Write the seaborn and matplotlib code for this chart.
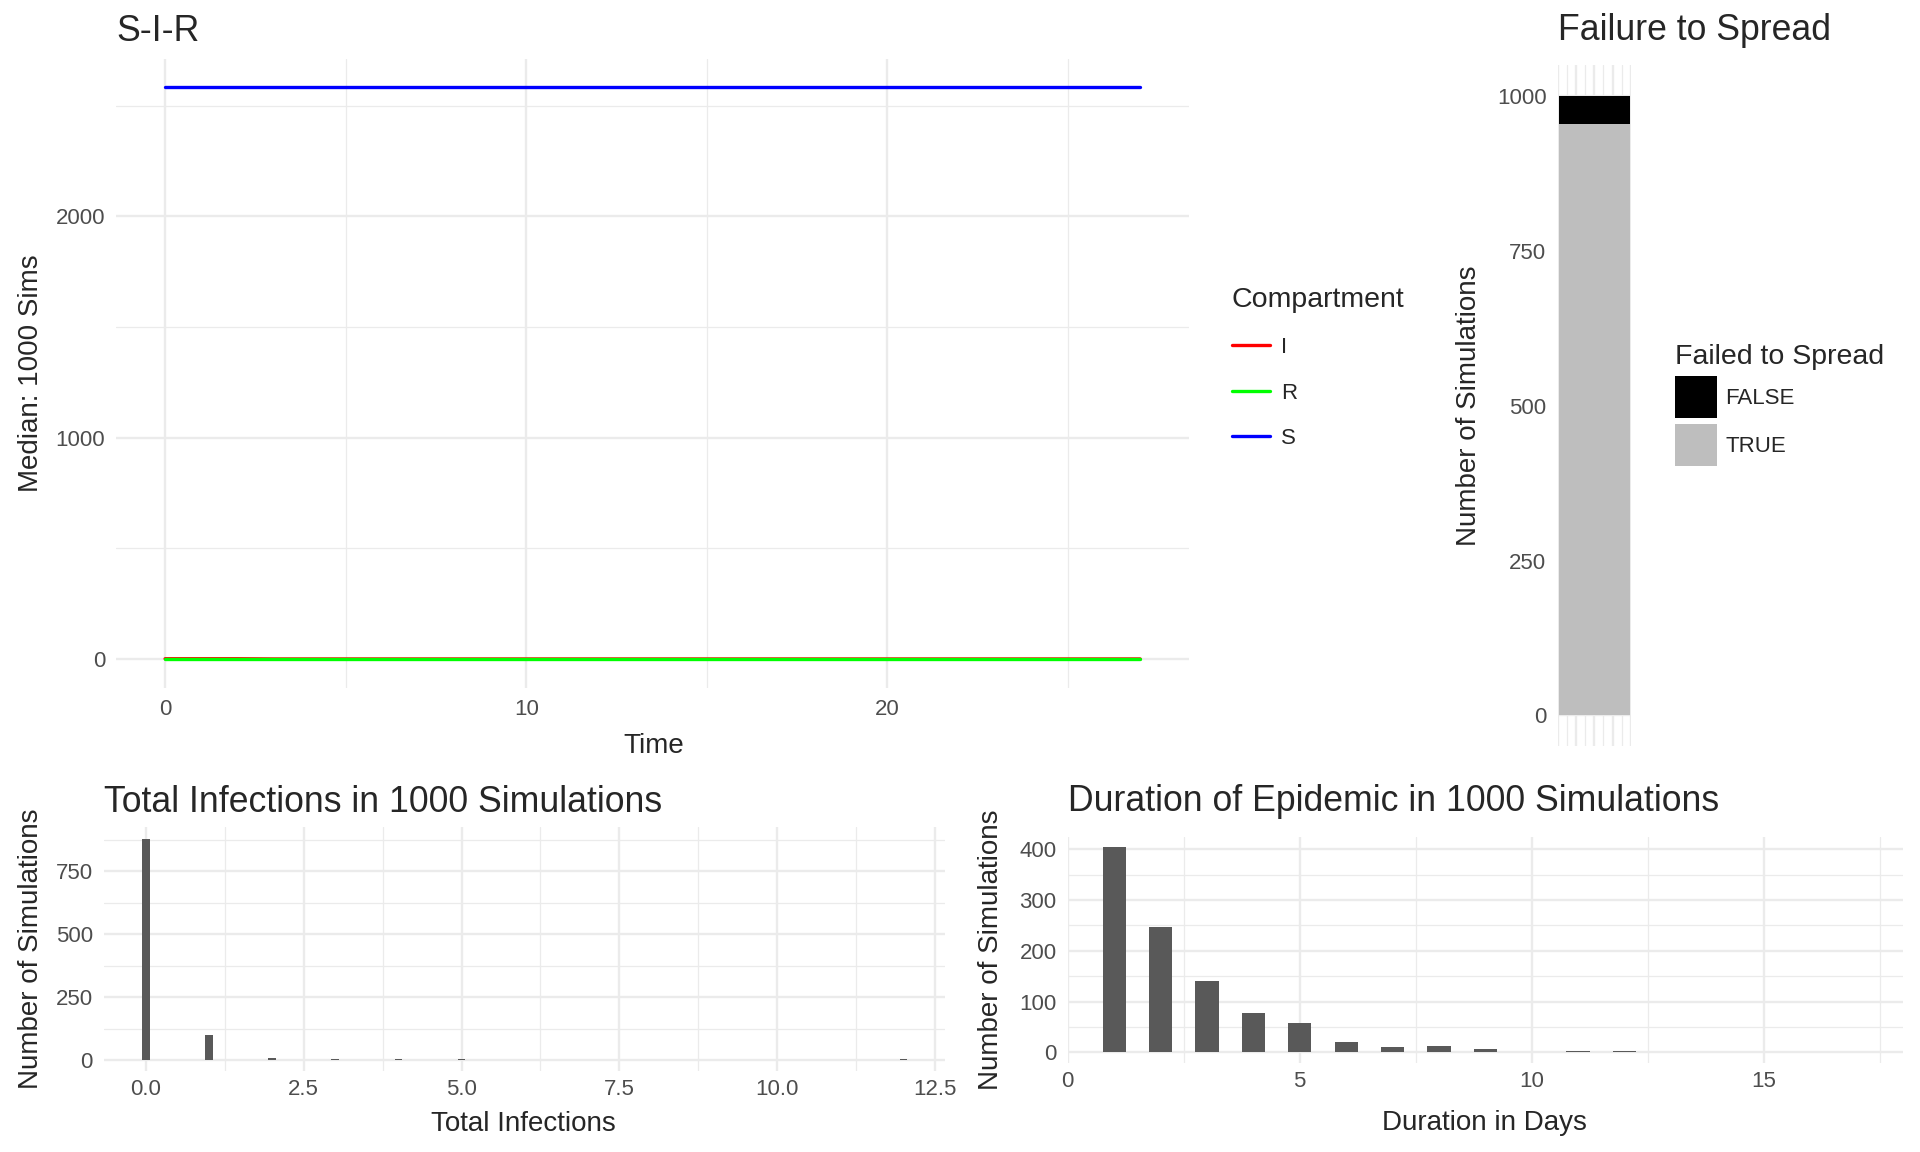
import matplotlib
matplotlib.use('Agg')
import matplotlib.pyplot as plt
from matplotlib.lines import Line2D
from matplotlib.patches import Patch
from matplotlib.ticker import MultipleLocator, FormatStrFormatter
import seaborn as sns
import pandas as pd

# median compartment sizes over 1000 sims
time = [0, 1, 2, 3, 4, 5, 6, 7, 8, 9, 10, 11, 12, 13,
        14, 15, 16, 17, 18, 19, 20, 21, 22, 23, 24, 25, 26, 27]
sir_s = [2582, 2582, 2582, 2582, 2582, 2582, 2582, 2582, 2582, 2582,
         2582, 2582, 2582, 2582, 2582, 2582, 2582, 2582, 2582, 2582,
         2582, 2582, 2582, 2582, 2582, 2582, 2582, 2582]
sir_i = [1, 1, 1, 0, 0, 0, 0, 0, 0, 0, 0, 0, 0, 0,
         0, 0, 0, 0, 0, 0, 0, 0, 0, 0, 0, 0, 0, 0]
sir_r = [0, 0, 0, 0, 0, 0, 0, 0, 0, 0, 0, 0, 0, 0,
         0, 0, 0, 0, 0, 0, 0, 0, 0, 0, 0, 0, 0, 0]
compartments = ['I', 'R', 'S']
comp_colors = ['red', '#00FF00', 'blue']

# failure to spread
failed_labels = ['FALSE', 'TRUE']
failed_counts = [45, 955]
failed_colors = ['black', '#BEBEBE']

# total infections histogram
infections = [0, 1, 2, 3, 4, 5, 12]
infection_counts = [876, 101, 9, 4, 3, 4, 3]

# duration histogram
duration_days = [1, 2, 3, 4, 5, 6, 7, 8, 9, 11, 12]
duration_counts = [404, 246, 141, 78, 58, 21, 11, 13, 6, 3, 3]

sns.set_style('white')
plt.rcParams['font.family'] = ['Liberation Sans', 'DejaVu Sans']

GRID = '#EBEBEB'
TICK = '#4D4D4D'
TITLE_SIZE = 25.7
W, H = 1568.0, 940.0  # layout measured on the reference preview


def box(left, top, right, bottom):
    return [left / W, 1 - bottom / H, (right - left) / W, (bottom - top) / H]


def style(ax, xmaj, ymaj):
    for s in ax.spines.values():
        s.set_visible(False)
    ax.xaxis.set_major_locator(MultipleLocator(xmaj))
    ax.xaxis.set_minor_locator(MultipleLocator(xmaj / 2))
    ax.yaxis.set_major_locator(MultipleLocator(ymaj))
    ax.yaxis.set_minor_locator(MultipleLocator(ymaj / 2))
    ax.grid(which='major', color=GRID, lw=1.7)
    ax.grid(which='minor', color=GRID, lw=0.9)
    ax.set_axisbelow(True)
    ax.tick_params(which='both', length=0, labelsize=16, labelcolor=TICK, pad=8)


fig = plt.figure(figsize=(19.2, 11.52), dpi=100)

# S-I-R
ax1 = fig.add_axes(box(95, 48, 971, 561))
sir = pd.DataFrame({
    'time': time * 3,
    'value': sir_i + sir_r + sir_s,
    'comp': ['I'] * len(time) + ['R'] * len(time) + ['S'] * len(time),
})
sns.lineplot(data=sir, x='time', y='value', hue='comp', hue_order=compartments,
             palette=dict(zip(compartments, comp_colors)), lw=2.4,
             legend=False, ax=ax1)
style(ax1, 10, 1000)
ax1.set_xlim(-1.35, 28.35)
ax1.set_ylim(-129, 2711)
ax1.set_title('S-I-R', loc='left', fontsize=TITLE_SIZE, pad=13)
ax1.set_xlabel('Time', fontsize=20)
ax1.set_ylabel('Median: 1000 Sims', fontsize=20)
ax1.xaxis.set_label_coords(0.501, -0.072)
ax1.yaxis.set_label_coords(-0.067, 0.5)

handles = [Line2D([], [], color=c, lw=2.4) for c in comp_colors]
fig.legend(handles, compartments, title='Compartment', loc='upper left',
           bbox_to_anchor=(1006 / W, 1 - 234 / H), frameon=False, fontsize=16,
           title_fontsize=20.5, handlelength=1.7, labelspacing=1.1,
           handletextpad=0.5, borderpad=0, borderaxespad=0, alignment='left')

# failure to spread
ax2 = fig.add_axes(box(1272, 53, 1332, 609))
fail = pd.DataFrame({'x': [0, 0], 'n': [sum(failed_counts), failed_counts[1]]})
sns.barplot(data=fail.iloc[[0]], x='x', y='n', native_scale=True, color=failed_colors[0],
            saturation=1, width=0.96, linewidth=0, ax=ax2)
sns.barplot(data=fail.iloc[[1]], x='x', y='n', native_scale=True, color=failed_colors[1],
            saturation=1, width=0.96, linewidth=0, ax=ax2)
style(ax2, 0.25, 250)
ax2.xaxis.set_minor_locator(MultipleLocator(0.125))
ax2.set_xlim(-0.5, 0.5)
ax2.set_ylim(-50, 1050)
ax2.tick_params(labelbottom=False)
ax2.set_title('Failure to Spread', loc='left', fontsize=TITLE_SIZE, pad=18)
ax2.set_xlabel('')
ax2.set_ylabel('Number of Simulations', fontsize=20)
ax2.yaxis.set_label_coords(-1.03, 0.5)

handles = [Patch(facecolor=c, edgecolor='none') for c in failed_colors]
fig.legend(handles, failed_labels, title='Failed to Spread', loc='upper left',
           bbox_to_anchor=(1368 / W, 1 - 281 / H), frameon=False, fontsize=16,
           title_fontsize=20.5, handlelength=1.9, handleheight=2.55, labelspacing=0.25,
           handletextpad=0.35, borderpad=0, borderaxespad=0, alignment='left')

# total infections
ax3 = fig.add_axes(box(85, 675, 772, 874))
inf = pd.DataFrame({'x': infections, 'n': infection_counts})
sns.barplot(data=inf, x='x', y='n', native_scale=True, color='#595959',
            saturation=1, width=0.12, linewidth=0, ax=ax3)
style(ax3, 2.5, 250)
ax3.tick_params(axis='x', pad=6)
ax3.xaxis.set_major_formatter(FormatStrFormatter('%.1f'))
ax3.set_xlim(-0.66, 12.66)
ax3.set_ylim(-44, 924)
ax3.set_title('Total Infections in 1000 Simulations', loc='left', fontsize=TITLE_SIZE, pad=11)
ax3.set_xlabel('Total Infections', fontsize=20)
ax3.set_ylabel('Number of Simulations', fontsize=20)
ax3.xaxis.set_label_coords(0.499, -0.165)
ax3.yaxis.set_label_coords(-0.072, 0.5)

# duration
ax4 = fig.add_axes(box(872, 683, 1554, 867))
dur = pd.DataFrame({'x': duration_days, 'n': duration_counts})
sns.barplot(data=dur, x='x', y='n', native_scale=True, color='#595959',
            saturation=1, width=0.5, linewidth=0, ax=ax4)
style(ax4, 5, 100)
ax4.tick_params(axis='x', pad=6)
ax4.set_xlim(0, 18)
ax4.set_ylim(-20, 424)
ax4.set_title('Duration of Epidemic in 1000 Simulations', loc='left', fontsize=TITLE_SIZE, pad=19)
ax4.set_xlabel('Duration in Days', fontsize=20)
ax4.set_ylabel('Number of Simulations', fontsize=20)
ax4.xaxis.set_label_coords(0.4985, -0.212)
ax4.yaxis.set_label_coords(-0.076, 0.5)

fig.savefig('out.png', dpi=100, facecolor='white')
